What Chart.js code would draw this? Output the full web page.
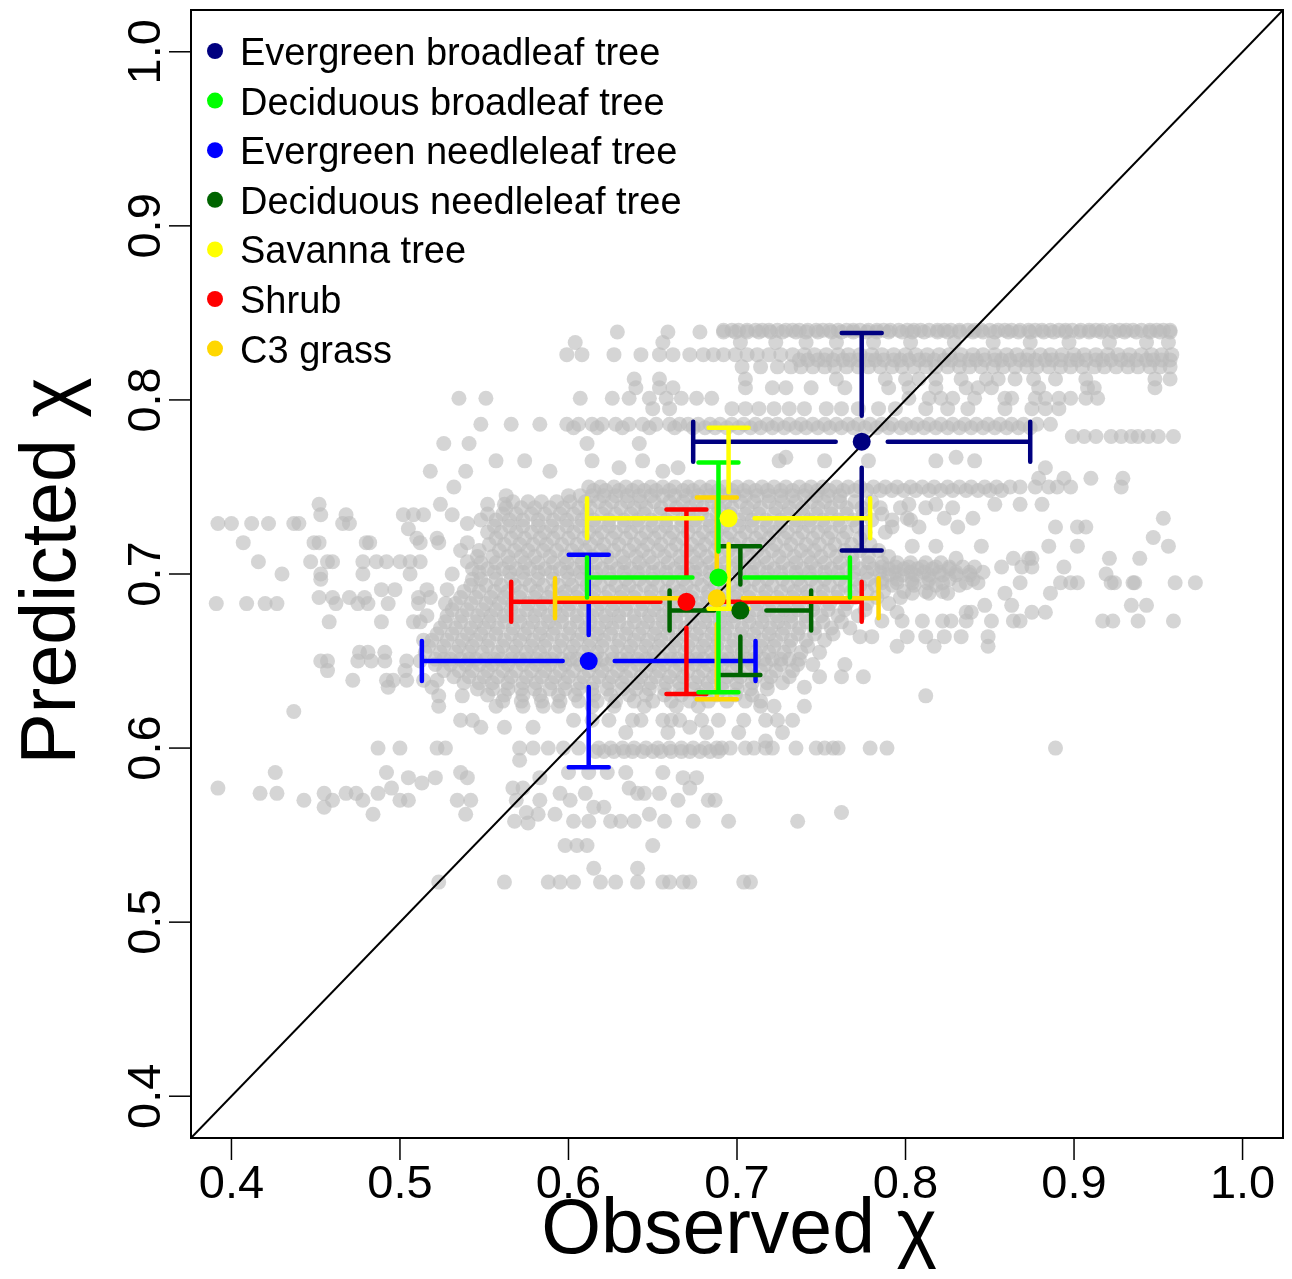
<!DOCTYPE html>
<html>
<head>
<meta charset="utf-8">
<script src="https://cdn.jsdelivr.net/npm/chart.js@4.4.1/dist/chart.umd.min.js"></script>
<style>
  html, body { margin: 0; padding: 0; background: #fff; }
  #wrap { width: 1292px; height: 1279px; }
</style>
</head>
<body>
<div id="wrap"><canvas id="chi" width="1292" height="1279"></canvas></div>
<script>
// axis ticks
const tickValues = [0.4, 0.5, 0.6, 0.7, 0.8, 0.9, 1.0];
const tickLabels = ["0.4", "0.5", "0.6", "0.7", "0.8", "0.9", "1.0"];

// PFT means and spread (observed = x, predicted = y)
const groupNames = [
  "Evergreen broadleaf tree",
  "Deciduous broadleaf tree",
  "Evergreen needleleaf tree",
  "Deciduous needleleaf tree",
  "Savanna tree",
  "Shrub",
  "C3 grass",
];
const groupColors = ["#000080", "#00ff00", "#0000ff", "#006400", "#ffff00", "#ff0000", "#ffd700"];
const meanObs = [0.774, 0.689, 0.612, 0.702, 0.695, 0.670, 0.688];
const meanPred = [0.776, 0.698, 0.650, 0.679, 0.732, 0.684, 0.686];
const sdObs = [0.100, 0.078, 0.099, 0.042, 0.084, 0.104, 0.096];
const sdPred = [0.0625, 0.066, 0.061, 0.037, 0.052, 0.053, 0.058];
const barOrder = [0, 2, 3, 5, 6, 1, 4]; // which bar goes on top of which

// grey site points, read row by row: [predicted, [observed...]]
const greyRows = [
  [0.840, [0.692, 0.697, 0.701, 0.706, 0.711, 0.715, 0.719, 0.724, 0.729, 0.733, 0.737, 0.742, 0.747, 0.751, 0.755, 0.760, 0.765, 0.769, 0.773, 0.778, 0.783, 0.787, 0.791, 0.796, 0.801, 0.805, 0.809, 0.814, 0.819, 0.823, 0.827, 0.832, 0.837, 0.841, 0.845, 0.850, 0.855, 0.859, 0.863, 0.868, 0.873, 0.877, 0.881, 0.886, 0.891, 0.895, 0.899, 0.904, 0.909, 0.913, 0.917, 0.922, 0.927, 0.931, 0.935, 0.940, 0.945, 0.949, 0.953, 0.957]],
  [0.839, [0.629, 0.659, 0.678, 0.692, 0.699, 0.706, 0.713, 0.720, 0.727, 0.735, 0.741, 0.748, 0.756, 0.762, 0.769, 0.777, 0.783, 0.790, 0.798, 0.804, 0.811, 0.819, 0.825, 0.832, 0.840, 0.846, 0.853, 0.861, 0.867, 0.874, 0.882, 0.888, 0.895, 0.903, 0.909, 0.916, 0.924, 0.930, 0.937, 0.945, 0.951, 0.957]],
  [0.833, [0.604, 0.656, 0.702, 0.723, 0.741, 0.759, 0.781, 0.803, 0.829, 0.852, 0.874, 0.897, 0.921, 0.943, 0.956]],
  [0.826, [0.599, 0.608, 0.627, 0.643, 0.654, 0.662, 0.672, 0.680, 0.686, 0.692, 0.699, 0.706, 0.712, 0.719, 0.726, 0.733, 0.740, 0.746, 0.753, 0.760, 0.766, 0.773, 0.780, 0.786, 0.793, 0.800, 0.806, 0.813, 0.820, 0.826, 0.833, 0.840, 0.846, 0.853, 0.860, 0.866, 0.873, 0.880, 0.886, 0.893, 0.900, 0.906, 0.913, 0.920, 0.926, 0.933, 0.940, 0.946, 0.952, 0.958]],
  [0.823, [0.737, 0.742, 0.748, 0.752, 0.757, 0.763, 0.767, 0.772, 0.778, 0.782, 0.787, 0.793, 0.797, 0.802, 0.808, 0.812, 0.817, 0.823, 0.827, 0.832, 0.838, 0.842, 0.847, 0.853, 0.857, 0.862, 0.868, 0.872, 0.877, 0.883, 0.887, 0.892, 0.898, 0.902, 0.907, 0.913, 0.917, 0.922, 0.928, 0.932, 0.937, 0.943, 0.947, 0.952, 0.957]],
  [0.819, [0.703, 0.714, 0.724, 0.732, 0.738, 0.745, 0.752, 0.758, 0.765, 0.772, 0.778, 0.785, 0.792, 0.798, 0.805, 0.812, 0.818, 0.825, 0.832, 0.838, 0.845, 0.852, 0.858, 0.865, 0.872, 0.878, 0.885, 0.892, 0.898, 0.905, 0.912, 0.918, 0.925, 0.932, 0.938, 0.945, 0.951, 0.957]],
  [0.812, [0.639, 0.654, 0.705, 0.759, 0.788, 0.800, 0.808, 0.818, 0.833, 0.848, 0.855, 0.865, 0.876, 0.889, 0.907, 0.948, 0.957]],
  [0.807, [0.640, 0.654, 0.662, 0.705, 0.721, 0.729, 0.744, 0.764, 0.790, 0.802, 0.818, 0.836, 0.843, 0.851, 0.879, 0.908, 0.912, 0.948]],
  [0.801, [0.535, 0.551, 0.607, 0.626, 0.636, 0.648, 0.658, 0.667, 0.676, 0.685, 0.802, 0.814, 0.821, 0.828, 0.841, 0.859, 0.863, 0.877, 0.883, 0.891, 0.898, 0.907, 0.914]],
  [0.795, [0.650, 0.660, 0.697, 0.705, 0.713, 0.722, 0.731, 0.740, 0.753, 0.762, 0.772, 0.784, 0.794, 0.812, 0.825, 0.837, 0.859, 0.875, 0.883, 0.891]],
  [0.786, [0.548, 0.566, 0.583, 0.599, 0.606, 0.614, 0.620, 0.628, 0.636, 0.644, 0.652, 0.660, 0.666, 0.671, 0.677, 0.684, 0.690, 0.697, 0.704, 0.711, 0.718, 0.724, 0.731, 0.738, 0.745, 0.752, 0.759, 0.766, 0.772, 0.779, 0.786, 0.792, 0.800, 0.807, 0.814, 0.821, 0.828, 0.835, 0.842, 0.849, 0.856, 0.863, 0.870, 0.878, 0.886]],
  [0.784, [0.603, 0.617, 0.632, 0.648, 0.663, 0.674, 0.681, 0.687, 0.694, 0.701, 0.708, 0.714, 0.721, 0.728, 0.735, 0.741, 0.748, 0.755, 0.762, 0.769, 0.776, 0.783, 0.790, 0.797, 0.804, 0.811, 0.818, 0.825, 0.832, 0.839, 0.846, 0.853, 0.860, 0.867, 0.874]],
  [0.779, [0.899, 0.906, 0.913, 0.922, 0.928, 0.934, 0.938, 0.944, 0.950, 0.959]],
  [0.775, [0.526, 0.541, 0.611, 0.642]],
  [0.767, [0.729, 0.830]],
  [0.765, [0.557, 0.574, 0.614, 0.644, 0.725, 0.752, 0.778, 0.818, 0.841]],
  [0.761, [0.630, 0.665, 0.883]],
  [0.759, [0.518, 0.539, 0.589, 0.656]],
  [0.755, [0.879, 0.894, 0.910, 0.929]],
  [0.750, [0.532, 0.612, 0.619, 0.627, 0.634, 0.641, 0.649, 0.656, 0.663, 0.671, 0.678, 0.685, 0.693, 0.700, 0.707, 0.715, 0.722, 0.729, 0.737, 0.744, 0.751, 0.759, 0.766, 0.773, 0.781, 0.788, 0.795, 0.803, 0.810, 0.817, 0.825, 0.832, 0.839, 0.847, 0.854, 0.862, 0.868, 0.877, 0.885, 0.890, 0.898, 0.928]],
  [0.748, [0.615, 0.622, 0.630, 0.638, 0.645, 0.652, 0.660, 0.668, 0.674, 0.682, 0.689, 0.697, 0.704, 0.711, 0.718, 0.726, 0.733, 0.741, 0.748, 0.755, 0.763, 0.770, 0.777, 0.785, 0.792, 0.799, 0.806, 0.814, 0.821, 0.828, 0.836, 0.843, 0.850, 0.857]],
  [0.745, [0.563, 0.600, 0.607, 0.614, 0.621, 0.628, 0.635, 0.642, 0.649, 0.656, 0.663, 0.670, 0.677, 0.684, 0.691, 0.698, 0.705, 0.712, 0.719, 0.726, 0.733, 0.740, 0.747, 0.754, 0.761]],
  [0.7415, [0.567, 0.576, 0.584, 0.593, 0.601, 0.610, 0.618, 0.626, 0.635, 0.643, 0.651, 0.660, 0.668, 0.676, 0.685, 0.693, 0.702, 0.710, 0.719, 0.727, 0.735, 0.744, 0.752, 0.761, 0.770, 0.780]],
  [0.740, [0.452, 0.524, 0.552, 0.562, 0.802, 0.818, 0.853, 0.868, 0.881]],
  [0.738, [0.563, 0.572, 0.580, 0.589, 0.597, 0.606, 0.613, 0.622, 0.631, 0.639, 0.646, 0.655, 0.664, 0.672, 0.680, 0.689, 0.697, 0.706, 0.714, 0.723, 0.731, 0.739, 0.748, 0.756, 0.765, 0.774, 0.785, 0.797, 0.812, 0.828]],
  [0.7345, [0.552, 0.561, 0.569, 0.578, 0.586, 0.595, 0.603, 0.611, 0.620, 0.628, 0.637, 0.645, 0.654, 0.662, 0.671, 0.679, 0.688, 0.696, 0.705, 0.713, 0.722, 0.730, 0.739, 0.747, 0.756, 0.765, 0.775, 0.786]],
  [0.734, [0.453, 0.468, 0.502, 0.508, 0.514, 0.531]],
  [0.732, [0.801, 0.823, 0.840, 0.953]],
  [0.731, [0.548, 0.557, 0.565, 0.573, 0.582, 0.591, 0.599, 0.608, 0.615, 0.624, 0.633, 0.641, 0.649, 0.658, 0.667, 0.675, 0.683, 0.692, 0.701, 0.709, 0.717, 0.726, 0.735, 0.743, 0.751, 0.760, 0.769, 0.780, 0.792, 0.803]],
  [0.729, [0.392, 0.400, 0.412, 0.422, 0.437, 0.440, 0.466, 0.470, 0.540]],
  [0.7275, [0.556, 0.565, 0.573, 0.582, 0.590, 0.599, 0.607, 0.616, 0.624, 0.633, 0.641, 0.650, 0.658, 0.667, 0.675, 0.684, 0.692, 0.701, 0.709, 0.718, 0.726, 0.735, 0.743, 0.752, 0.761, 0.771]],
  [0.727, [0.792, 0.808, 0.831, 0.889, 0.902, 0.907]],
  [0.726, [0.505]],
  [0.724, [0.552, 0.560, 0.569, 0.578, 0.586, 0.594, 0.603, 0.612, 0.620, 0.628, 0.637, 0.646, 0.654, 0.662, 0.671, 0.680, 0.688, 0.696, 0.705, 0.714, 0.722, 0.730, 0.739, 0.748, 0.756, 0.765, 0.776, 0.788]],
  [0.721, [0.947]],
  [0.7205, [0.510, 0.522, 0.557, 0.566, 0.574, 0.583, 0.591, 0.600, 0.609, 0.617, 0.626, 0.634, 0.643, 0.651, 0.660, 0.668, 0.677, 0.685, 0.694, 0.702, 0.711, 0.719, 0.728, 0.736, 0.745, 0.754, 0.763, 0.773]],
  [0.718, [0.407, 0.449, 0.452, 0.480, 0.482, 0.512, 0.523, 0.540]],
  [0.717, [0.553, 0.562, 0.571, 0.579, 0.587, 0.596, 0.605, 0.613, 0.621, 0.630, 0.639, 0.647, 0.655, 0.664, 0.673, 0.681, 0.689, 0.698, 0.707, 0.715, 0.723, 0.732, 0.741, 0.749, 0.758, 0.768, 0.779]],
  [0.716, [0.804, 0.818, 0.845, 0.885, 0.902, 0.956]],
  [0.7135, [0.536, 0.547, 0.559, 0.568, 0.576, 0.585, 0.593, 0.602, 0.610, 0.619, 0.627, 0.636, 0.644, 0.653, 0.661, 0.670, 0.678, 0.687, 0.695, 0.704, 0.712, 0.721, 0.729, 0.738, 0.746, 0.755, 0.764, 0.773, 0.784]],
  [0.710, [0.546, 0.555, 0.564, 0.572, 0.580, 0.589, 0.598, 0.606, 0.614, 0.623, 0.632, 0.640, 0.648, 0.657, 0.666, 0.674, 0.682, 0.691, 0.700, 0.708, 0.716, 0.725, 0.734, 0.742, 0.750, 0.759, 0.768, 0.778, 0.790]],
  [0.709, [0.830, 0.864, 0.873, 0.875, 0.921, 0.939]],
  [0.707, [0.416, 0.447, 0.457, 0.460, 0.478, 0.486, 0.492, 0.500, 0.506, 0.512, 0.540]],
  [0.7065, [0.548, 0.557, 0.565, 0.574, 0.582, 0.591, 0.599, 0.608, 0.616, 0.625, 0.633, 0.642, 0.650, 0.659, 0.667, 0.676, 0.684, 0.693, 0.701, 0.710, 0.718, 0.727, 0.735, 0.744, 0.752, 0.761, 0.769, 0.778, 0.786, 0.795, 0.803, 0.812, 0.821]],
  [0.704, [0.786, 0.794, 0.802, 0.810, 0.818, 0.826, 0.834, 0.841, 0.857, 0.869, 0.875, 0.894]],
  [0.703, [0.543, 0.552, 0.561, 0.569, 0.577, 0.586, 0.595, 0.603, 0.611, 0.620, 0.629, 0.637, 0.645, 0.654, 0.663, 0.671, 0.679, 0.688, 0.697, 0.705, 0.713, 0.722, 0.731, 0.739, 0.747, 0.756, 0.765, 0.773, 0.781, 0.790, 0.799, 0.807, 0.816, 0.826]],
  [0.701, [0.547, 0.556, 0.565, 0.573, 0.582, 0.590, 0.599, 0.607, 0.616, 0.624, 0.633, 0.641, 0.650, 0.658, 0.667, 0.675, 0.684, 0.692, 0.701, 0.709, 0.718, 0.726, 0.735, 0.743, 0.752, 0.760, 0.769, 0.777, 0.785, 0.794, 0.803, 0.811, 0.820, 0.830, 0.838, 0.846]],
  [0.700, [0.430, 0.453, 0.478, 0.506, 0.531, 0.919]],
  [0.6995, [0.790, 0.798, 0.806, 0.814, 0.822, 0.830, 0.838]],
  [0.697, [0.453, 0.543, 0.548, 0.557, 0.566, 0.574, 0.582, 0.591, 0.600, 0.608, 0.616, 0.625, 0.634, 0.642, 0.650, 0.659, 0.668, 0.676, 0.684, 0.693, 0.702, 0.710, 0.718, 0.727, 0.736, 0.744, 0.752, 0.761, 0.770, 0.778, 0.786, 0.795, 0.804, 0.814, 0.826, 0.840]],
  [0.695, [0.786, 0.795, 0.804, 0.813, 0.822, 0.836, 0.843, 0.868, 0.892, 0.898, 0.902, 0.922, 0.924, 0.935, 0.936, 0.960, 0.972]],
  [0.6935, [0.542, 0.551, 0.560, 0.568, 0.577, 0.585, 0.594, 0.602, 0.611, 0.619, 0.628, 0.636, 0.645, 0.653, 0.662, 0.670, 0.679, 0.687, 0.696, 0.704, 0.713, 0.721, 0.730, 0.738, 0.747, 0.755, 0.764, 0.773, 0.782, 0.792, 0.805, 0.818, 0.832]],
  [0.691, [0.489, 0.497, 0.516, 0.528]],
  [0.690, [0.538, 0.547, 0.556, 0.564, 0.572, 0.581, 0.590, 0.598, 0.606, 0.615, 0.624, 0.632, 0.640, 0.649, 0.658, 0.666, 0.674, 0.683, 0.692, 0.700, 0.708, 0.717, 0.726, 0.734, 0.742, 0.751, 0.760, 0.768, 0.777, 0.787, 0.799, 0.812, 0.822]],
  [0.689, [0.804, 0.814, 0.825, 0.859, 0.886]],
  [0.6865, [0.452, 0.460, 0.470, 0.479, 0.511, 0.518, 0.536, 0.545, 0.554, 0.562, 0.571, 0.580, 0.588, 0.597, 0.605, 0.614, 0.622, 0.631, 0.639, 0.648, 0.656, 0.665, 0.673, 0.682, 0.690, 0.699, 0.707, 0.716, 0.724, 0.733, 0.741, 0.750, 0.759, 0.770, 0.783, 0.797]],
  [0.683, [0.391, 0.409, 0.420, 0.427, 0.462, 0.475, 0.481, 0.493, 0.511, 0.527, 0.533, 0.542, 0.551, 0.559, 0.567, 0.576, 0.585, 0.593, 0.601, 0.610, 0.619, 0.627, 0.635, 0.644, 0.653, 0.661, 0.669, 0.678, 0.687, 0.695, 0.703, 0.712, 0.721, 0.729, 0.737, 0.746, 0.755, 0.765, 0.777, 0.790]],
  [0.682, [0.847, 0.863, 0.934, 0.943]],
  [0.6795, [0.531, 0.540, 0.549, 0.557, 0.566, 0.575, 0.583, 0.592, 0.600, 0.609, 0.617, 0.626, 0.634, 0.643, 0.651, 0.660, 0.668, 0.677, 0.685, 0.694, 0.702, 0.711, 0.719, 0.728, 0.736, 0.745, 0.754, 0.764, 0.776]],
  [0.678, [0.795, 0.836, 0.839, 0.875, 0.883]],
  [0.676, [0.516, 0.528, 0.537, 0.546, 0.554, 0.562, 0.571, 0.580, 0.588, 0.596, 0.605, 0.614, 0.622, 0.630, 0.639, 0.648, 0.656, 0.664, 0.673, 0.682, 0.690, 0.698, 0.707, 0.716, 0.724, 0.732, 0.741, 0.750, 0.760, 0.772]],
  [0.673, [0.786, 0.798, 0.810, 0.822, 0.827, 0.836, 0.851, 0.864, 0.868, 0.917, 0.923, 0.938, 0.959]],
  [0.6725, [0.458, 0.489, 0.508, 0.512, 0.527, 0.536, 0.545, 0.553, 0.562, 0.571, 0.579, 0.588, 0.596, 0.605, 0.613, 0.622, 0.630, 0.639, 0.647, 0.656, 0.664, 0.673, 0.681, 0.690, 0.698, 0.707, 0.715, 0.724, 0.732, 0.741, 0.751, 0.762]],
  [0.669, [0.524, 0.533, 0.542, 0.550, 0.558, 0.567, 0.576, 0.584, 0.592, 0.601, 0.610, 0.618, 0.626, 0.635, 0.644, 0.652, 0.660, 0.669, 0.678, 0.686, 0.694, 0.703, 0.712, 0.720, 0.728, 0.737, 0.746, 0.756, 0.767]],
  [0.6655, [0.522, 0.531, 0.540, 0.548, 0.557, 0.566, 0.574, 0.583, 0.591, 0.600, 0.608, 0.617, 0.625, 0.634, 0.642, 0.651, 0.659, 0.668, 0.676, 0.685, 0.693, 0.702, 0.710, 0.719, 0.727, 0.736, 0.746, 0.757]],
  [0.664, [0.773, 0.780, 0.801, 0.812, 0.823, 0.833, 0.849]],
  [0.662, [0.514, 0.519, 0.528, 0.537, 0.545, 0.553, 0.562, 0.571, 0.579, 0.587, 0.596, 0.605, 0.613, 0.621, 0.630, 0.639, 0.647, 0.655, 0.664, 0.673, 0.681, 0.689, 0.698, 0.707, 0.715, 0.723, 0.732, 0.741, 0.752]],
  [0.6585, [0.517, 0.526, 0.535, 0.543, 0.552, 0.561, 0.569, 0.578, 0.586, 0.595, 0.603, 0.612, 0.620, 0.629, 0.637, 0.646, 0.654, 0.663, 0.671, 0.680, 0.688, 0.697, 0.705, 0.714, 0.722, 0.731, 0.742, 0.795, 0.817, 0.849]],
  [0.655, [0.476, 0.481, 0.491, 0.515, 0.524, 0.533, 0.541, 0.549, 0.558, 0.567, 0.575, 0.583, 0.592, 0.601, 0.609, 0.617, 0.626, 0.635, 0.643, 0.651, 0.660, 0.669, 0.677, 0.685, 0.694, 0.703, 0.711, 0.719, 0.728, 0.738, 0.749]],
  [0.651, [0.521, 0.526, 0.530, 0.536, 0.541, 0.545, 0.551, 0.556, 0.560, 0.566, 0.571, 0.575, 0.581, 0.586, 0.590, 0.596, 0.601, 0.605, 0.611, 0.616, 0.620, 0.626, 0.631, 0.635, 0.641, 0.646, 0.650, 0.656, 0.661, 0.665, 0.671, 0.676, 0.680, 0.686, 0.691, 0.695, 0.701, 0.706, 0.710, 0.716, 0.721, 0.726, 0.731, 0.737]],
  [0.650, [0.453, 0.457, 0.475, 0.483, 0.491, 0.504, 0.512]],
  [0.648, [0.521, 0.530, 0.539, 0.547, 0.555, 0.564, 0.573, 0.581, 0.589, 0.598, 0.607, 0.615, 0.623, 0.632, 0.641, 0.649, 0.657, 0.666, 0.675, 0.683, 0.691, 0.700, 0.709, 0.717, 0.726, 0.736, 0.745, 0.764]],
  [0.6445, [0.457, 0.503, 0.526, 0.535, 0.543, 0.552, 0.561, 0.569, 0.578, 0.586, 0.595, 0.603, 0.612, 0.620, 0.629, 0.637, 0.646, 0.654, 0.663, 0.671, 0.680, 0.688, 0.697, 0.705, 0.714, 0.723, 0.733]],
  [0.641, [0.532, 0.541, 0.550, 0.558, 0.566, 0.575, 0.584, 0.592, 0.600, 0.609, 0.618, 0.626, 0.634, 0.643, 0.652, 0.660, 0.668, 0.677, 0.686, 0.694, 0.702, 0.711, 0.720, 0.731, 0.749, 0.762, 0.775]],
  [0.639, [0.472, 0.492, 0.496, 0.504, 0.514, 0.522]],
  [0.6375, [0.538, 0.547, 0.555, 0.564, 0.573, 0.581, 0.590, 0.598, 0.607, 0.615, 0.624, 0.632, 0.641, 0.649, 0.658, 0.666, 0.675, 0.683, 0.692, 0.700, 0.709, 0.718, 0.727]],
  [0.635, [0.493, 0.519, 0.740]],
  [0.634, [0.546, 0.555, 0.564, 0.572, 0.580, 0.589, 0.598, 0.606, 0.614, 0.623, 0.632, 0.640, 0.648, 0.657, 0.666, 0.674, 0.682, 0.691, 0.700, 0.708, 0.718]],
  [0.6305, [0.552, 0.562, 0.573, 0.583, 0.594, 0.604, 0.615, 0.625, 0.636, 0.646, 0.657, 0.667, 0.678, 0.688, 0.699, 0.709]],
  [0.630, [0.523, 0.537, 0.812]],
  [0.627, [0.561, 0.572, 0.584, 0.595, 0.606, 0.617, 0.628, 0.639, 0.650, 0.661, 0.672, 0.683, 0.694, 0.705, 0.714]],
  [0.624, [0.523, 0.557, 0.573, 0.585, 0.594, 0.614, 0.627, 0.645, 0.664, 0.677, 0.714, 0.722, 0.740]],
  [0.621, [0.437]],
  [0.616, [0.536, 0.543, 0.603, 0.614, 0.624, 0.638, 0.643, 0.656, 0.661, 0.666, 0.679, 0.689, 0.704, 0.717, 0.724, 0.733]],
  [0.612, [0.548, 0.562, 0.579, 0.672]],
  [0.609, [0.634, 0.659, 0.682, 0.701, 0.727]],
  [0.604, [0.717]],
  [0.600, [0.487, 0.500, 0.522, 0.527, 0.571, 0.579, 0.588, 0.597, 0.606, 0.618, 0.625, 0.632, 0.639, 0.646, 0.653, 0.660, 0.667, 0.674, 0.681, 0.688, 0.691, 0.696, 0.705, 0.710, 0.717, 0.721, 0.735, 0.747, 0.752, 0.757, 0.760, 0.779, 0.789, 0.889]],
  [0.598, [0.616, 0.621, 0.627, 0.633, 0.638, 0.644, 0.650, 0.655, 0.661, 0.667, 0.672, 0.678, 0.684, 0.689]],
  [0.593, [0.571]],
  [0.586, [0.426, 0.492, 0.536, 0.600, 0.612, 0.623, 0.634, 0.656]],
  [0.583, [0.505, 0.521, 0.540, 0.583, 0.668, 0.676]],
  [0.580, [0.513]],
  [0.577, [0.392, 0.495, 0.567, 0.573, 0.636, 0.672]],
  [0.574, [0.417, 0.427, 0.455, 0.468, 0.474, 0.487, 0.595, 0.610, 0.641, 0.645, 0.654]],
  [0.570, [0.443, 0.460, 0.478, 0.500, 0.505, 0.534, 0.542, 0.569, 0.583, 0.601, 0.665, 0.683, 0.687]],
  [0.566, [0.455, 0.615, 0.621]],
  [0.563, [0.575, 0.762]],
  [0.562, [0.484, 0.539, 0.582, 0.592, 0.648]],
  [0.558, [0.568, 0.603, 0.612, 0.625, 0.631, 0.639, 0.657, 0.674, 0.695, 0.736]],
  [0.557, [0.576]],
  [0.544, [0.598, 0.605, 0.611, 0.650]],
  [0.531, [0.615, 0.641]],
  [0.523, [0.523, 0.562, 0.588, 0.595, 0.603, 0.619, 0.628, 0.641, 0.656, 0.660, 0.668, 0.672, 0.704, 0.708]],
];

const axisMin = 0.376, axisMax = 1.024;
const FONT = '"Liberation Sans", Arial, Helvetica, sans-serif';

const greyPoints = [];
greyRows.forEach(([yv, xs]) => xs.forEach(xv => greyPoints.push({ x: xv, y: yv })));

// error bars sit just under the mean dots, with a small gap round each dot
function drawErrorBars(chart) {
  const { ctx, scales: { x, y } } = chart;
  const gap = 26, cap = 20;
  ctx.save();
  ctx.lineWidth = 4.5;
  ctx.lineCap = "round";
  barOrder.forEach((i) => {
    const cx = x.getPixelForValue(meanObs[i]);
    const cy = y.getPixelForValue(meanPred[i]);
    const xl = x.getPixelForValue(meanObs[i] - sdObs[i]);
    const xr = x.getPixelForValue(meanObs[i] + sdObs[i]);
    const yb = y.getPixelForValue(meanPred[i] - sdPred[i]);
    const yt = y.getPixelForValue(meanPred[i] + sdPred[i]);
    ctx.strokeStyle = groupColors[i];
    ctx.beginPath();
    ctx.moveTo(xl, cy); ctx.lineTo(cx - gap, cy);
    ctx.moveTo(cx + gap, cy); ctx.lineTo(xr, cy);
    ctx.moveTo(cx, yt); ctx.lineTo(cx, cy - gap);
    ctx.moveTo(cx, cy + gap); ctx.lineTo(cx, yb);
    ctx.moveTo(xl, cy - cap); ctx.lineTo(xl, cy + cap);
    ctx.moveTo(xr, cy - cap); ctx.lineTo(xr, cy + cap);
    ctx.moveTo(cx - cap, yt); ctx.lineTo(cx + cap, yt);
    ctx.moveTo(cx - cap, yb); ctx.lineTo(cx + cap, yb);
    ctx.stroke();
  });
  ctx.restore();
}

const rFrame = {
  id: "rFrame",
  beforeDatasetDraw(chart, args) {
    if (args.index === 2) drawErrorBars(chart);
  },
  afterDraw(chart) {
    const { ctx, chartArea: a, scales: { x, y } } = chart;
    ctx.save();
    // box
    ctx.strokeStyle = "#000";
    ctx.lineWidth = 2;
    ctx.strokeRect(a.left, a.top, a.right - a.left, a.bottom - a.top);

    // ticks + labels
    ctx.lineWidth = 1.5;
    ctx.fillStyle = "#000";
    ctx.font = "47px " + FONT;
    ctx.textAlign = "center";
    ctx.textBaseline = "alphabetic";
    tickValues.forEach((v, i) => {
      const px = x.getPixelForValue(v);
      ctx.beginPath();
      ctx.moveTo(px, a.bottom);
      ctx.lineTo(px, a.bottom + 22);
      ctx.stroke();
      ctx.fillText(tickLabels[i], px, 1198);

      const py = y.getPixelForValue(v);
      ctx.beginPath();
      ctx.moveTo(a.left, py);
      ctx.lineTo(a.left - 22, py);
      ctx.stroke();
      ctx.save();
      ctx.translate(160, py);
      ctx.rotate(-Math.PI / 2);
      ctx.fillText(tickLabels[i], 0, 0);
      ctx.restore();
    });

    // axis titles
    ctx.font = "77px " + FONT;
    ctx.fillText("Observed \u03c7", (a.left + a.right) / 2 + 2, 1253);
    ctx.save();
    ctx.translate(75, (a.top + a.bottom) / 2 - 3);
    ctx.rotate(-Math.PI / 2);
    ctx.fillText("Predicted \u03c7", 0, 0);
    ctx.restore();

    // legend
    ctx.font = "38px " + FONT;
    ctx.textAlign = "left";
    groupNames.forEach((name, i) => {
      const ly = 51 + i * 49.6;
      ctx.fillStyle = groupColors[i];
      ctx.beginPath();
      ctx.arc(215, ly, 8, 0, Math.PI * 2);
      ctx.fill();
      ctx.fillStyle = "#000";
      ctx.fillText(name, 240, ly + 14);
    });
    ctx.restore();
  },
};

const ctx = document.getElementById("chi").getContext("2d");
new Chart(ctx, {
  type: "scatter",
  data: {
    datasets: [
      {
        label: "sites",
        order: 3,
        data: greyPoints,
        pointRadius: 7.5,
        pointHoverRadius: 7.5,
        backgroundColor: "rgba(188,188,188,0.62)",
        borderWidth: 0,
      },
      {
        type: "line",
        label: "1:1",
        order: 2,
        data: [{ x: axisMin, y: axisMin }, { x: axisMax, y: axisMax }],
        borderColor: "#000",
        borderWidth: 2,
        pointRadius: 0,
        fill: false,
      },
      {
        label: "means",
        order: 1,
        data: meanObs.map((v, i) => ({ x: v, y: meanPred[i] })),
        pointRadius: 9,
        pointHoverRadius: 9,
        backgroundColor: groupColors,
        borderWidth: 0,
      },
    ],
  },
  options: {
    responsive: false,
    animation: false,
    devicePixelRatio: 1,
    events: [],
    layout: { padding: { left: 191, right: 7, top: 10, bottom: 141 } },
    scales: {
      x: { type: "linear", min: axisMin, max: axisMax, display: false },
      y: { type: "linear", min: axisMin, max: axisMax, display: false },
    },
    plugins: {
      legend: { display: false },
      tooltip: { enabled: false },
    },
  },
  plugins: [rFrame],
});
</script>
</body>
</html>
